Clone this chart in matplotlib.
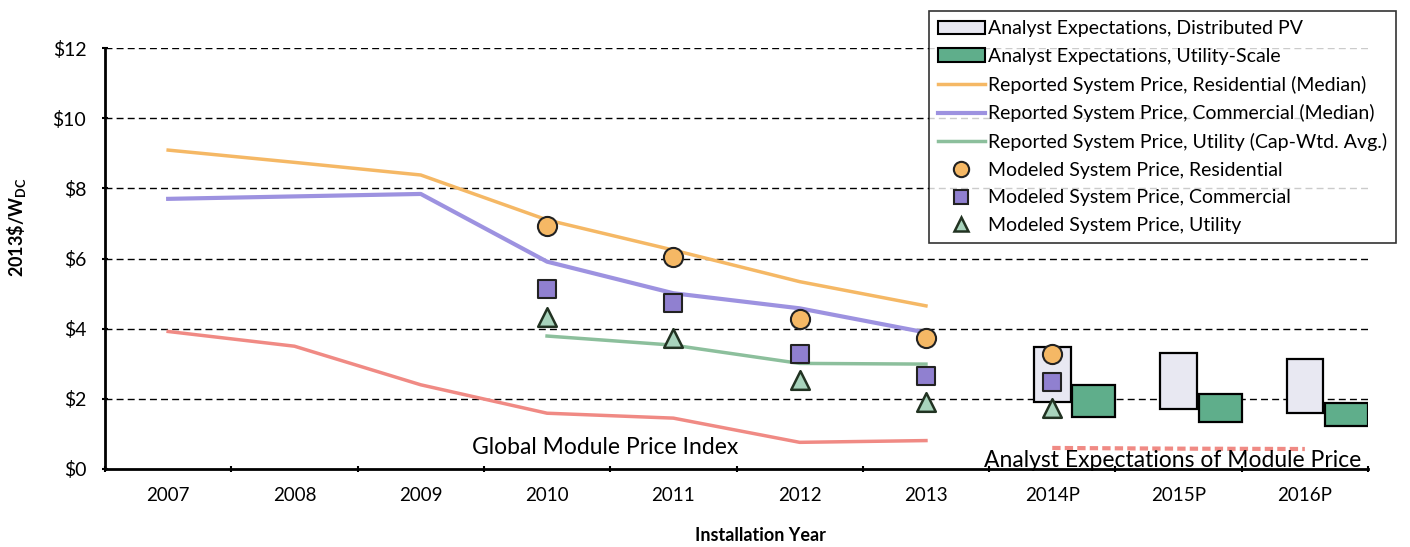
import numpy as np
import matplotlib.pyplot as plt
from matplotlib.patches import Patch
from matplotlib.lines import Line2D
from matplotlib.ticker import FuncFormatter

plt.rcParams['font.family'] = ['Lato', 'DejaVu Sans']

# categories
years = ['2007', '2008', '2009', '2010', '2011', '2012', '2013', '2014P', '2015P', '2016P']

# reported system prices (2007-2013)
res_median = [9.09, 8.74, 8.38, 7.10, 6.24, 5.34, 4.65]
com_median = [7.70, 7.77, 7.84, 5.91, 5.01, 4.58, 3.89]
util_avg = [3.79, 3.53, 3.01, 2.99]          # 2010-2013
module_index = [3.92, 3.50, 2.40, 1.59, 1.45, 0.76, 0.81]

# modeled system prices (2010-2014P)
mod_res = [6.93, 6.05, 4.28, 3.73, 3.28]
mod_com = [5.12, 4.74, 3.28, 2.65, 2.49]
mod_util = [4.34, 3.73, 2.54, 1.92, 1.73]

# analyst expectations (2014P-2016P), low / high
dist_low = [1.90, 1.72, 1.59]
dist_high = [3.47, 3.30, 3.14]
uscale_low = [1.49, 1.35, 1.23]
uscale_high = [2.39, 2.14, 1.87]
module_expect = [0.60, 0.58, 0.57]

c_res = '#f5b865'
c_com = '#9d92e0'
c_util = '#8cbf9c'
c_mod = '#f08a84'
c_dist_fill = '#e8e8f2'
c_us_fill = '#5fae8b'

x = np.arange(len(years))
fig = plt.figure(figsize=(14.1, 5.47), dpi=100)
ax = fig.add_axes([105/1410, 78/547, 1263/1410, 421/547])

for v in range(2, 13, 2):
    ax.axhline(v, color='black', ls=(0, (5, 3)), lw=1.0, zorder=1)

# analyst expectation boxes
xp = x[7:]
ax.bar(xp, np.array(dist_high) - np.array(dist_low), bottom=dist_low, width=0.29,
       color=c_dist_fill, edgecolor='black', lw=1.6, zorder=2)
ax.bar(xp + 0.33, np.array(uscale_high) - np.array(uscale_low), bottom=uscale_low, width=0.34,
       color=c_us_fill, edgecolor='black', lw=1.6, zorder=2)

# reported lines
ax.plot(x[:7], res_median, color=c_res, lw=2.5, zorder=3)
ax.plot(x[:7], com_median, color=c_com, lw=3, zorder=3)
ax.plot(x[3:7], util_avg, color=c_util, lw=2.5, zorder=3)
ax.plot(x[:7], module_index, color=c_mod, lw=2.5, zorder=3)
ax.plot(xp, module_expect, color=c_mod, lw=3, ls=(0, (2, 1)), zorder=3)

# modeled markers
xm = x[3:8]
ax.scatter(xm, mod_res, s=190, marker='o', color=c_res, edgecolor='#222222', lw=1.5, zorder=4)
ax.scatter(xm, mod_com, s=180, marker='s', color='#9080d0', edgecolor='#222222', lw=1.5, zorder=4)
ax.scatter(xm, mod_util, s=180, marker='^', color='#a8d4bc', edgecolor='#223322', lw=1.8, zorder=4)

ax.text(3.46, 0.6, 'Global Module Price Index', fontsize=16.5, ha='center', va='center')
ax.text(7.95, 0.06, 'Analyst Expectations of Module Price', fontsize=16.5, ha='center', va='baseline')

ax.set_xlim(-0.5, 9.5)
ax.set_ylim(0, 12)
ax.set_xticks(x)
ax.set_xticklabels(years, fontsize=13.5)
ax.set_xticks(np.arange(-0.5, 10, 1), minor=True)
ax.tick_params(axis='x', which='major', length=0, pad=13)
ax.tick_params(axis='x', which='minor', length=5, width=1.5, direction='inout')
ax.set_yticks(np.arange(0, 13, 2))
ax.yaxis.set_major_formatter(FuncFormatter(lambda v, p: '\\$%d' % v))
ax.tick_params(axis='y', labelsize=14, length=5, width=1.5, direction='inout', pad=11)
for s in ['top', 'right']:
    ax.spines[s].set_visible(False)
ax.spines['left'].set_linewidth(2)
ax.spines['bottom'].set_linewidth(2)

ax.set_xlabel('Installation Year', fontsize=13, fontweight='bold')
ax.xaxis.set_label_coords((760 - 105) / 1263, -(527 - 469) / 421)
ax.set_ylabel('2013\\$/W$_{\\mathregular{DC}}$', fontsize=13, fontweight='bold')
ax.yaxis.set_label_coords((28 - 105) / 1263, (469 - 227) / 421)

handles = [
    Patch(facecolor=c_dist_fill, edgecolor='black', lw=1.5),
    Patch(facecolor=c_us_fill, edgecolor='black', lw=1.5),
    Line2D([], [], color=c_res, lw=2.5),
    Line2D([], [], color=c_com, lw=3),
    Line2D([], [], color=c_util, lw=2.5),
    Line2D([], [], ls='none', marker='o', ms=11, mfc=c_res, mec='#222222', mew=1.5),
    Line2D([], [], ls='none', marker='s', ms=10, mfc='#9080d0', mec='#222222', mew=1.5),
    Line2D([], [], ls='none', marker='^', ms=10, mfc='#a8d4bc', mec='#223322', mew=1.8),
]
labels = ['Analyst Expectations, Distributed PV', 'Analyst Expectations, Utility-Scale',
          'Reported System Price, Residential (Median)', 'Reported System Price, Commercial (Median)',
          'Reported System Price, Utility (Cap-Wtd. Avg.)', 'Modeled System Price, Residential',
          'Modeled System Price, Commercial', 'Modeled System Price, Utility']
leg = fig.legend(handles, labels, loc='upper right', bbox_to_anchor=(1406/1410, 0.997),
                 fontsize=14, frameon=True, fancybox=False, edgecolor='black',
                 handlelength=2.4, handletextpad=0.2, labelspacing=0.55, borderpad=0.45)
leg.get_frame().set_linewidth(1.2)

fig.savefig('out.png', dpi=100)
